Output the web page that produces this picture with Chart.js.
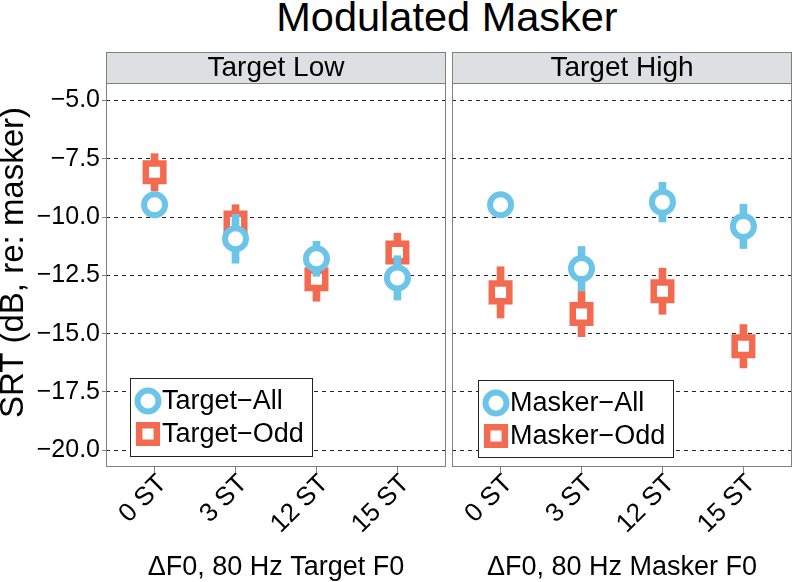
<!DOCTYPE html>
<html>
<head>
<meta charset="utf-8">
<script src="https://cdn.jsdelivr.net/npm/chart.js@4.4.1/dist/chart.umd.min.js"></script>
<style>
  html, body { margin: 0; padding: 0; background: #fff; }
  #wrap { position: relative; width: 793px; height: 582px; overflow: hidden; }
  #title {
    position: absolute; left: 147px; top: -4px; width: 600px;
    text-align: center; font: 41.5px/41px "Liberation Sans", Arial, sans-serif; color: #000;
  }
  canvas { position: absolute; top: 0; }
  #low { left: 0; }
  #high { left: 450px; }
</style>
</head>
<body>
<div id="wrap">
  <div id="title">Modulated Masker</div>
  <canvas id="low" width="450" height="582"></canvas>
  <canvas id="high" width="343" height="582"></canvas>
</div>
<script>
const categories = ['0 ST', '3 ST', '12 ST', '15 ST'];
const yTicks = [-5, -7.5, -10, -12.5, -15, -17.5, -20];

// Target Low panel
const targetAll = [-9.47, -10.93, -11.79, -12.61];
const targetAllErr = [0.4, 1.05, 0.75, 0.95];
const targetOdd = [-8.08, -10.23, -12.67, -11.52];
const targetOddErr = [0.8, 0.76, 0.94, 0.83];

// Target High panel
const maskerAll = [-9.47, -12.21, -9.36, -10.40];
const maskerAllErr = [0.35, 0.95, 0.85, 0.95];
const maskerOdd = [-13.23, -14.16, -13.18, -15.54];
const maskerOddErr = [1.1, 0.97, 0.99, 0.93];

const BLUE = '#6cc5e9';
const ORANGE = '#f26b50';
const FONT = '"Liberation Sans", Arial, sans-serif';

function points(values) {
  return values.map((v, i) => ({ x: i + 1, y: v }));
}

function errorBars(values, errs) {
  return values.map((v, i) => ({ x: i + 1, y: [v - errs[i], v + errs[i]] }));
}

// error bar under its marker; lower order is drawn on top
function series(label, values, errs, color, shape, order) {
  const circle = shape === 'circle';
  return [
    {
      type: 'bar',
      label: label + ' SE',
      data: errorBars(values, errs),
      backgroundColor: color,
      borderWidth: 0,
      barThickness: 7,
      grouped: false,
      order: order + 1,
    },
    {
      type: 'scatter',
      label,
      data: points(values),
      pointStyle: shape,
      pointRadius: circle ? 10.5 : 12.4,
      pointBorderWidth: circle ? 6 : 6.5,
      pointBorderColor: color,
      pointBackgroundColor: '#fff',
      order,
    },
  ];
}

const facetPlugin = {
  id: 'facet',
  afterDraw(chart, args, opts) {
    const { ctx, chartArea: a } = chart;
    ctx.save();

    // strip on top of the panel
    ctx.fillStyle = '#dde0e2';
    ctx.fillRect(a.left, opts.stripTop, a.width, a.top - opts.stripTop);
    ctx.strokeStyle = '#808080';
    ctx.lineWidth = 1;
    ctx.strokeRect(a.left + 0.5, opts.stripTop + 0.5, a.width - 1, a.top - opts.stripTop);
    ctx.fillStyle = '#000';
    ctx.font = '28px ' + FONT;
    ctx.textAlign = 'center';
    ctx.textBaseline = 'middle';
    ctx.fillText(opts.label, (a.left + a.right) / 2, (opts.stripTop + a.top) / 2 + 1);

    // panel border
    ctx.strokeRect(a.left + 0.5, a.top + 0.5, a.width - 1, a.height - 1);

    // legend box inside the panel
    const items = chart.data.datasets.filter(d => d.type === 'scatter')
      .sort((p, q) => p.order - q.order);
    const lx = a.left + opts.legend.x;
    const ly = opts.legend.y;
    ctx.fillStyle = '#fff';
    ctx.fillRect(lx, ly, opts.legend.w, opts.legend.h);
    ctx.strokeStyle = '#222';
    ctx.strokeRect(lx + 0.5, ly + 0.5, opts.legend.w, opts.legend.h);
    items.forEach((d, i) => {
      const cy = ly + 23 + i * 33;
      const cx = lx + 18;
      ctx.lineWidth = d.pointBorderWidth;
      ctx.strokeStyle = d.pointBorderColor;
      ctx.fillStyle = '#fff';
      ctx.beginPath();
      if (d.pointStyle === 'circle') {
        ctx.arc(cx, cy, 10.5, 0, Math.PI * 2);
      } else {
        ctx.rect(cx - 8.8, cy - 8.8, 17.6, 17.6);
      }
      ctx.fill();
      ctx.stroke();
      ctx.fillStyle = '#000';
      ctx.font = '27px ' + FONT;
      ctx.textAlign = 'left';
      ctx.textBaseline = 'middle';
      ctx.fillText(d.label, cx + 14, cy + 1);
    });

    // y axis title, centred on strip + panel
    if (opts.yTitle) {
      ctx.translate(14, (opts.stripTop + a.bottom) / 2 + 3);
      ctx.rotate(-Math.PI / 2);
      ctx.font = '33px ' + FONT;
      ctx.textAlign = 'center';
      ctx.textBaseline = 'middle';
      ctx.fillText(opts.yTitle, 0, 0);
    }
    ctx.restore();
  },
};

function makeChart(id, cfg) {
  return new Chart(document.getElementById(id), {
    type: 'scatter',
    data: {
      datasets: [
        ...series(cfg.names[1], cfg.odd, cfg.oddErr, ORANGE, 'rect', 3),
        ...series(cfg.names[0], cfg.all, cfg.allErr, BLUE, 'circle', 1),
      ],
    },
    options: {
      responsive: false,
      animation: false,
      events: [],
      layout: {
        autoPadding: false,
        padding: { top: 83, bottom: 0, left: cfg.padLeft, right: cfg.padRight },
      },
      plugins: {
        legend: { display: false },
        tooltip: { enabled: false },
        facet: { label: cfg.strip, stripTop: 52, yTitle: cfg.yTitle, legend: cfg.legend },
      },
      scales: {
        x: {
          type: 'linear',
          offset: false,
          min: 0.4,
          max: 4.6,
          afterBuildTicks: s => { s.ticks = categories.map((c, i) => ({ value: i + 1 })); },
          afterFit: s => { s.height = 115; s.paddingLeft = 0; s.paddingRight = 0; },
          ticks: {
            callback: v => categories[Math.round(v) - 1],
            minRotation: 45,
            maxRotation: 45,
            autoSkip: false,
            padding: -3,
            labelOffset: 8,
            color: '#000',
            font: { size: 26, family: FONT, lineHeight: 1.15 },
          },
          grid: { offset: false, drawOnChartArea: false, drawTicks: true, tickLength: 5, tickColor: '#808080', tickWidth: 1 },
          border: { display: false },
          title: {
            display: true,
            text: cfg.xTitle,
            color: '#000',
            font: { size: 27, family: FONT, lineHeight: 1 },
            padding: { top: 0, bottom: 1 },
          },
        },
        y: {
          min: -20.72,
          max: -4.25,
          afterBuildTicks: s => { s.ticks = yTicks.map(v => ({ value: v })); },
          afterFit: s => { s.width = cfg.yWidth; },
          ticks: {
            display: cfg.showY,
            callback: v => v.toFixed(1).replace('-', '\u2212'),
            color: '#000',
            padding: 2,
            font: { size: 25, family: FONT },
          },
          grid: {
            color: '#222',
            lineWidth: 1,
            drawTicks: cfg.showY,
            tickLength: 4,
            tickColor: '#808080',
            tickBorderDash: [],
          },
          border: { display: false, dash: [4, 4] },
        },
      },
    },
    plugins: [facetPlugin],
  });
}

makeChart('low', {
  strip: 'Target Low',
  names: ['Target\u2212All', 'Target\u2212Odd'],
  all: targetAll, allErr: targetAllErr,
  odd: targetOdd, oddErr: targetOddErr,
  xTitle: '\u0394F0, 80 Hz Target F0',
  yTitle: 'SRT (dB, re: masker)',
  showY: true, yWidth: 106, padLeft: 0, padRight: 4,
  legend: { x: 24, y: 378, w: 182, h: 78 },
});

makeChart('high', {
  strip: 'Target High',
  names: ['Masker\u2212All', 'Masker\u2212Odd'],
  all: maskerAll, allErr: maskerAllErr,
  odd: maskerOdd, oddErr: maskerOddErr,
  xTitle: '\u0394F0, 80 Hz Masker F0',
  yTitle: null,
  showY: false, yWidth: 0, padLeft: 2, padRight: 1,
  legend: { x: 26, y: 380, w: 195, h: 77 },
});
</script>
</body>
</html>
